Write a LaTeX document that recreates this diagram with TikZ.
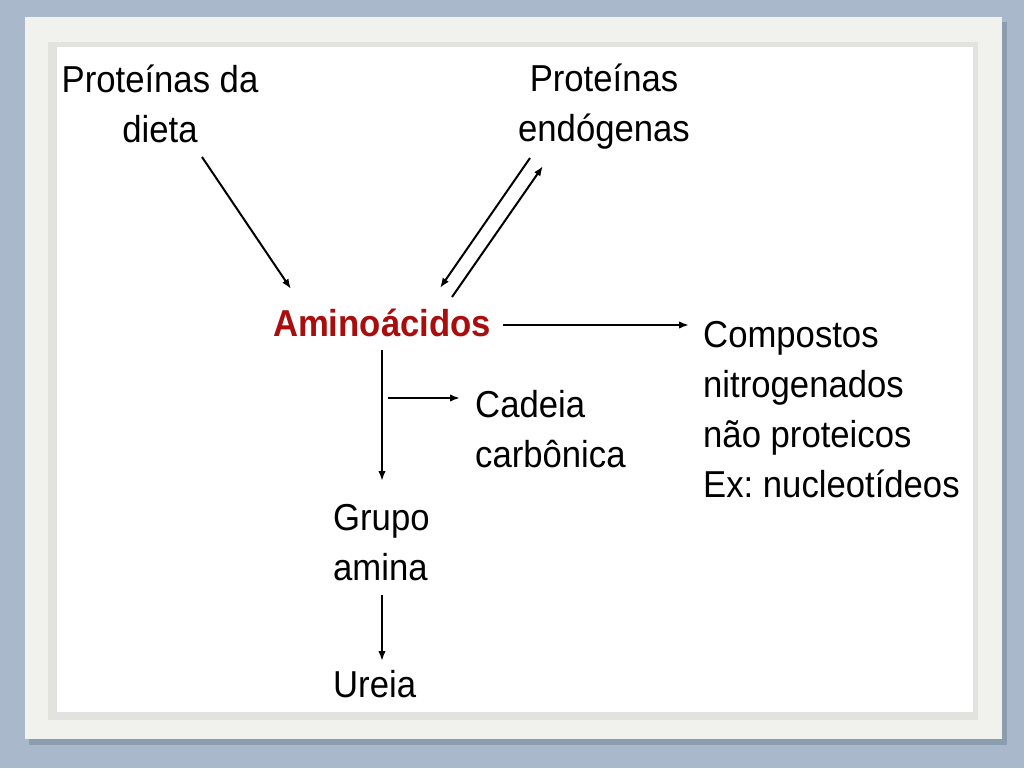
\documentclass[tikz,border=0pt]{standalone}
\usepackage{fontspec}
\setmainfont[FakeStretch=0.925]{Liberation Sans}
\usetikzlibrary{arrows.meta}
\definecolor{bg}{HTML}{A9B9CB}
\definecolor{shadowc}{HTML}{8D9DB0}
\definecolor{framec}{HTML}{F1F1ED}
\definecolor{frameedge}{HTML}{E2E2DE}
\definecolor{aminored}{HTML}{A80E0E}
\frenchspacing
\begin{document}
\begin{tikzpicture}[x=1pt,y=-1pt,
  lbl/.style={inner sep=0pt, font=\fontsize{37.5}{50}\selectfont},
  arr/.style={line width=2pt, -{Latex[length=10pt,width=7.5pt]}}]
\useasboundingbox (0,0) rectangle (1024,768);
\fill[bg] (0,0) rectangle (1024,768);
\fill[shadowc] (29,22) rectangle (1007,745);
\fill[framec] (25,17) rectangle (1002,739);
\fill[frameedge] (48,42) rectangle (978,720);
\fill[white] (57,47) rectangle (973,712);

\node[lbl, align=center, anchor=base] (diet) at (160,142) {Proteínas da\\dieta};
\node[lbl, align=center, anchor=base] (endo) at (604,141) {Proteínas\\endógenas};
\node[lbl, anchor=base, text=aminored, font=\fontsize{37.5}{50}\selectfont\bfseries] (amino) at (382,336) {Aminoácidos};
\node[lbl, align=left, anchor=base west] (comp) at (703,497) {Compostos\\nitrogenados\\não proteicos\\Ex: nucleotídeos};
\node[lbl, align=left, anchor=base west] (cad) at (475,467) {Cadeia\\carbônica};
\node[lbl, align=left, anchor=base west] (grupo) at (333,580) {Grupo\\amina};
\node[lbl, anchor=base west] (ureia) at (333,697) {Ureia};

\coordinate (d1) at (202,157);
\coordinate (d2) at (291,289);
\coordinate (e1) at (530,158);
\coordinate (e2) at (440,288);
\coordinate (e3) at (452,297);
\coordinate (e4) at (543,166);
\coordinate (h1) at (503,325);
\coordinate (h2) at (689,325);
\coordinate (v1) at (382,350);
\coordinate (v2) at (382,481);
\coordinate (c1) at (388,398);
\coordinate (c2) at (460,398);
\coordinate (u1) at (382,595);
\coordinate (u2) at (382,661);

\draw[arr] (d1) -- (d2);
\draw[arr] (e1) -- (e2);
\draw[arr] (e3) -- (e4);
\draw[arr] (h1) -- (h2);
\draw[arr] (v1) -- (v2);
\draw[arr] (c1) -- (c2);
\draw[arr] (u1) -- (u2);
\end{tikzpicture}
\end{document}
